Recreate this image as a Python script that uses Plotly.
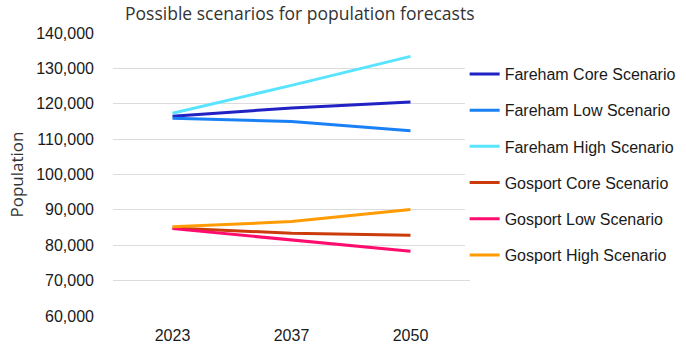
import plotly.graph_objects as go

years = ["2023", "2037", "2050"]

fareham_core = [116500, 118800, 120500]
fareham_low = [115900, 115000, 112400]
fareham_high = [117300, 125200, 133400]
gosport_core = [84900, 83400, 82800]
gosport_low = [84700, 81500, 78300]
gosport_high = [85200, 86700, 90100]

series = [
    ("Fareham Core Scenario", fareham_core, "#2121c4"),
    ("Fareham Low Scenario", fareham_low, "#1a80f5"),
    ("Fareham High Scenario", fareham_high, "#58e4ff"),
    ("Gosport Core Scenario", gosport_core, "#cc3b0c"),
    ("Gosport Low Scenario", gosport_low, "#ff0d6e"),
    ("Gosport High Scenario", gosport_high, "#ff9c05"),
]

tick_font = dict(family="Liberation Sans, Arial", size=16, color="#1a1a1a")

fig = go.Figure()
for name, vals, col in series:
    fig.add_trace(go.Scatter(
        x=years, y=vals, name=name, mode="lines",
        line=dict(color=col, width=3),
        legendgroup=name,
    ))

fig.update_layout(
    width=686, height=344,
    margin=dict(l=113, r=216, t=33, b=28, autoexpand=False),
    paper_bgcolor="white", plot_bgcolor="white",
    title=dict(
        text="Possible scenarios for population forecasts",
        x=0.437, xanchor="center", y=0.96, yanchor="middle",
        font=dict(family="Open Sans", size=17.5, color="#333333", weight=400),
    ),
    legend=dict(
        x=0.985, xanchor="left", y=0.915, yanchor="top",
        font=tick_font,
        tracegroupgap=12.4, itemwidth=30,
    ),
    xaxis=dict(
        type="category", showgrid=False, showline=False, zeroline=False,
        ticks="", tickfont=tick_font, ticklabelstandoff=8,
        range=[-0.5, 2.5], automargin=False,
    ),
    yaxis=dict(
        range=[60000, 140000], dtick=10000, tickformat=",d",
        gridcolor="#dcdcdc", gridwidth=1, zeroline=False, showline=False,
        ticks="", ticklabelstandoff=18, automargin=False,
        tickfont=tick_font,
        title=dict(text="Population", standoff=8,
                   font=dict(family="Open Sans", size=17, color="#333333", weight=400)),
    ),
)

fig.write_html("out.html")
